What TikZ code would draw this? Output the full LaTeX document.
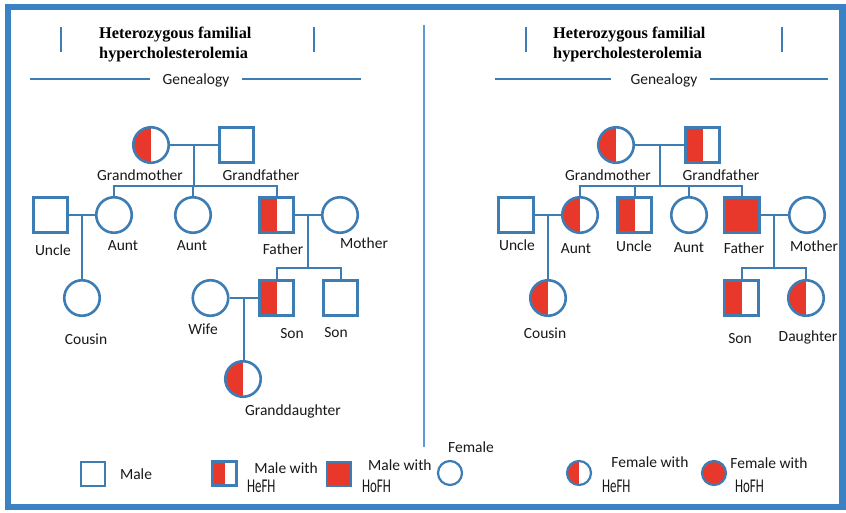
\documentclass[tikz,border=0pt]{standalone}
\usepackage{fontspec}
\setmainfont{Carlito}
\newfontfamily\titlefont{Liberation Serif}
\usetikzlibrary{calc}
\definecolor{pedblue}{HTML}{3E7CB4}
\definecolor{framecol}{HTML}{3B82C4}
\definecolor{divcol}{HTML}{5B9BD5}
\definecolor{fhred}{HTML}{E8382C}
\tikzset{
  male/.style={rectangle,draw=pedblue,line width=2.6pt,minimum size=34.5pt,inner sep=0pt,fill=white},
  female/.style={circle,draw=pedblue,line width=2.6pt,minimum size=35.5pt,inner sep=0pt,fill=white},
  lmale/.style={rectangle,draw=pedblue,line width=2.2pt,minimum size=24pt,inner sep=0pt,fill=white},
  lfemale/.style={circle,draw=pedblue,line width=2.2pt,minimum size=24pt,inner sep=0pt,fill=white},
  hefill/.style={path picture={\fill[fhred] (path picture bounding box.south west) rectangle (path picture bounding box.north);}},
  hofill/.style={fill=fhred},
  conn/.style={draw=pedblue,line width=2pt},
  lbl/.style={font=\fontsize{15.5}{17}\selectfont,inner sep=0pt,text=black!90},
  code/.style={font=\fontsize{19.5}{20}\selectfont,inner sep=0pt,anchor=west,text=black!90,xscale=0.66},
  ttl/.style={font=\titlefont\bfseries\fontsize{16.3}{20}\selectfont,align=left,anchor=north west,inner sep=0pt},
  tbar/.style={draw=pedblue,line width=2.6pt},
  gline/.style={draw=pedblue,line width=1.6pt},
}
\begin{document}
\begin{tikzpicture}[x=1pt,y=-1pt]
\useasboundingbox (0,0) rectangle (846,512);
\fill[white] (0,0) rectangle (846,512);
% frame
\draw[framecol,line width=6.5pt] (8,7) rectangle (842.5,507);
% divider
\draw[divcol,line width=1.6pt] (424,25) -- (424,447);

% ===== titles =====
\draw[tbar] (61,27) -- (61,52);
\draw[tbar] (314,27) -- (314,52);
\node[ttl] (ltitle) at (99,26.5) {Heterozygous familial\\hypercholesterolemia};
\draw[tbar] (526,27) -- (526,52);
\draw[tbar] (782,27) -- (782,52);
\node[ttl] (rtitle) at (553,26.5) {Heterozygous familial\\hypercholesterolemia};

\node[lbl] (lgen) at (196,80) {Genealogy};
\draw[gline] (30,79) -- (150,79);
\draw[gline] (242,79) -- (361,79);
\node[lbl] (rgen) at (664,80) {Genealogy};
\draw[gline] (495,79) -- (611,79);
\draw[gline] (710,79) -- (828,79);

% ===== left pedigree =====
\node[female,hefill] (lgm) at (151,145) {};
\node[male] (lgf) at (236.5,145) {};
\node[male] (lun) at (50.5,215) {};
\node[female] (la1) at (114,215) {};
\node[female] (la2) at (193,215) {};
\node[male,hefill] (lfa) at (276.5,215) {};
\node[female] (lmo) at (340,215) {};
\node[female] (lco) at (82,298) {};
\node[female] (lwi) at (210.5,298) {};
\node[male,hefill] (ls1) at (276.5,298) {};
\node[male] (ls2) at (340.5,298) {};
\node[female,hefill] (lgd) at (243,379) {};

\draw[conn] (lgm.east) -- (lgf.west);
\coordinate (lm1) at ($(lgm.east)!0.5!(lgf.west)$);
\draw[conn] (lm1) -- (lm1 |- 0,186);
\draw[conn] (la1.north) -- (la1.north |- 0,186) -| (lfa.north);
\draw[conn] (la2.north) -- (la2.north |- 0,186);

\draw[conn] (lun.east) -- (la1.west);
\coordinate (lm2) at ($(lun.east)!0.5!(la1.west)$);
\draw[conn] (lm2) -- (lm2 |- lco.north);

\draw[conn] (lfa.east) -- (lmo.west);
\coordinate (lm3) at ($(lfa.east)!0.5!(lmo.west)$);
\draw[conn] (lm3) -- (lm3 |- 0,268);
\draw[conn] (ls1.north) -- (ls1.north |- 0,268) -| (ls2.north);

\draw[conn] (lwi.east) -- (ls1.west);
\coordinate (lm4) at ($(lwi.east)!0.5!(ls1.west)$);
\draw[conn] (lm4) -- (lm4 |- lgd.north);

\node[lbl] (tlgm) at (140,175) {Grandmother};
\node[lbl] (tlgf) at (261,175) {Grandfather};
\node[lbl] (tlun) at (53,250) {Uncle};
\node[lbl] (tla1) at (123,246) {Aunt};
\node[lbl] (tla2) at (192,246) {Aunt};
\node[lbl] (tlfa) at (283,249) {Father};
\node[lbl] (tlmo) at (364,243) {Mother};
\node[lbl] (tlco) at (86,339) {Cousin};
\node[lbl] (tlwi) at (203,329) {Wife};
\node[lbl] (tls1) at (292,334) {Son};
\node[lbl] (tls2) at (336,333) {Son};
\node[lbl] (tlgd) at (293,411) {Granddaughter};

% ===== right pedigree =====
\node[female,hefill] (rgm) at (616,145) {};
\node[male,hefill] (rgf) at (702.5,145) {};
\node[male] (run) at (516,215) {};
\node[female,hefill] (ra1) at (580,215) {};
\node[male,hefill] (ru2) at (634.5,215) {};
\node[female] (ra2) at (689,215) {};
\node[male,hofill] (rfa) at (742,215) {};
\node[female] (rmo) at (807,215) {};
\node[female,hefill] (rco) at (548,298) {};
\node[male,hefill] (rso) at (741.5,298) {};
\node[female,hefill] (rda) at (806,298) {};

\draw[conn] (rgm.east) -- (rgf.west);
\coordinate (rm1) at ($(rgm.east)!0.5!(rgf.west)$);
\draw[conn] (rm1) -- (rm1 |- 0,186);
\draw[conn] (ra1.north) -- (ra1.north |- 0,186) -| (rfa.north);
\draw[conn] (ru2.north) -- (ru2.north |- 0,186);
\draw[conn] (ra2.north) -- (ra2.north |- 0,186);

\draw[conn] (run.east) -- (ra1.west);
\coordinate (rm2) at ($(run.east)!0.5!(ra1.west)$);
\draw[conn] (rm2) -- (rm2 |- rco.north);

\draw[conn] (rfa.east) -- (rmo.west);
\coordinate (rm3) at ($(rfa.east)!0.5!(rmo.west)$);
\draw[conn] (rm3) -- (rm3 |- 0,268);
\draw[conn] (rso.north) -- (rso.north |- 0,268) -| (rda.north);

\node[lbl] (trgm) at (608,175) {Grandmother};
\node[lbl] (trgf) at (721,175) {Grandfather};
\node[lbl] (trun) at (517,245) {Uncle};
\node[lbl] (tra1) at (576,249) {Aunt};
\node[lbl] (tru2) at (634,246) {Uncle};
\node[lbl] (tra2) at (689,248) {Aunt};
\node[lbl] (trfa) at (744,248) {Father};
\node[lbl] (trmo) at (814,246) {Mother};
\node[lbl] (trco) at (545,333) {Cousin};
\node[lbl] (trso) at (740,339) {Son};
\node[lbl] (trda) at (808,337) {Daughter};

% ===== legend =====
\node[lmale] (kM) at (93,474) {};
\node[lbl] (tkM) at (136,474) {Male};
\node[lmale,hefill] (kMhe) at (224.5,473.5) {};
\node[lbl] (tkMhe) at (286,468) {Male with};
\node[code] (ckMhe) at (247,486) {HeFH};
\node[lmale,hofill] (kMho) at (339,474) {};
\node[lbl,anchor=west] (tkMho) at (368,465) {Male with};
\node[code] (ckMho) at (362,486) {HoFH};
\node[lfemale] (kF) at (450,473) {};
\node[lbl] (tkF) at (471,447) {Female};
\node[lfemale,hefill] (kFhe) at (579,473) {};
\node[lbl] (tkFhe) at (650,462) {Female with};
\node[code] (ckFhe) at (602,486) {HeFH};
\node[lfemale,hofill] (kFho) at (714,473) {};
\node[lbl] (tkFho) at (769,463) {Female with};
\node[code] (ckFho) at (735,486) {HoFH};
\end{tikzpicture}
\end{document}
